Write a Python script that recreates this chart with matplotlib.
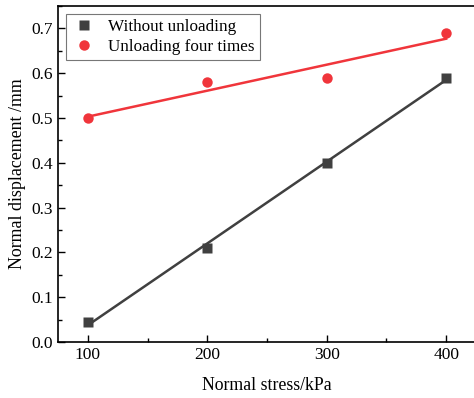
import numpy as np
import matplotlib
matplotlib.use("Agg")
import matplotlib.pyplot as plt
from matplotlib.ticker import MultipleLocator, FormatStrFormatter

plt.rcParams["font.family"] = ["Liberation Serif", "DejaVu Serif"]

stress = [100, 200, 300, 400]
disp_without = [0.045, 0.21, 0.40, 0.59]
disp_unload4 = [0.50, 0.58, 0.59, 0.69]

BLACK = "#404040"
RED = "#f0353b"

fig = plt.figure(figsize=(4.74, 3.98), dpi=100)
ax = fig.add_axes([58 / 474, 56 / 398, 418 / 474, 336 / 398])

for y, color, marker, ms, label in [
    (disp_without, BLACK, "s", 6.5, "Without unloading"),
    (disp_unload4, RED, "o", 7.5, "Unloading four times"),
]:
    # linear fit line through each series
    k, b = np.polyfit(stress, y, 1)
    xs = np.array([stress[0], stress[-1]])
    ax.plot(xs, k * xs + b, color=color, lw=1.8, zorder=2)
    ax.plot(stress, y, ls="none", marker=marker, ms=ms, color=color,
            mec="none", label=label, zorder=3)

ax.set_xlim(75, 425)
ax.set_ylim(0, 0.75)
ax.xaxis.set_major_locator(MultipleLocator(100))
ax.xaxis.set_minor_locator(MultipleLocator(50))
ax.yaxis.set_major_locator(MultipleLocator(0.1))
ax.yaxis.set_minor_locator(MultipleLocator(0.05))
ax.yaxis.set_major_formatter(FormatStrFormatter("%.1f"))
ax.tick_params(which="both", direction="in", labelsize=12.5, width=1,
               top=False, right=False)
ax.tick_params(which="major", length=5)
ax.tick_params(which="minor", length=3)
for s in ax.spines.values():
    s.set_linewidth(1.2)

ax.set_xlabel("Normal stress/kPa", fontsize=12.8, labelpad=10)
ax.set_ylabel("Normal displacement /mm", fontsize=12.9, labelpad=4)

leg = ax.legend(loc="upper left", fontsize=12.3, frameon=True, fancybox=False,
                edgecolor="#555555", borderaxespad=0.45, handletextpad=0.6,
                borderpad=0.3, labelspacing=0.25, handlelength=1.6)
leg.get_frame().set_linewidth(0.8)

fig.savefig("out.png", dpi=100)
